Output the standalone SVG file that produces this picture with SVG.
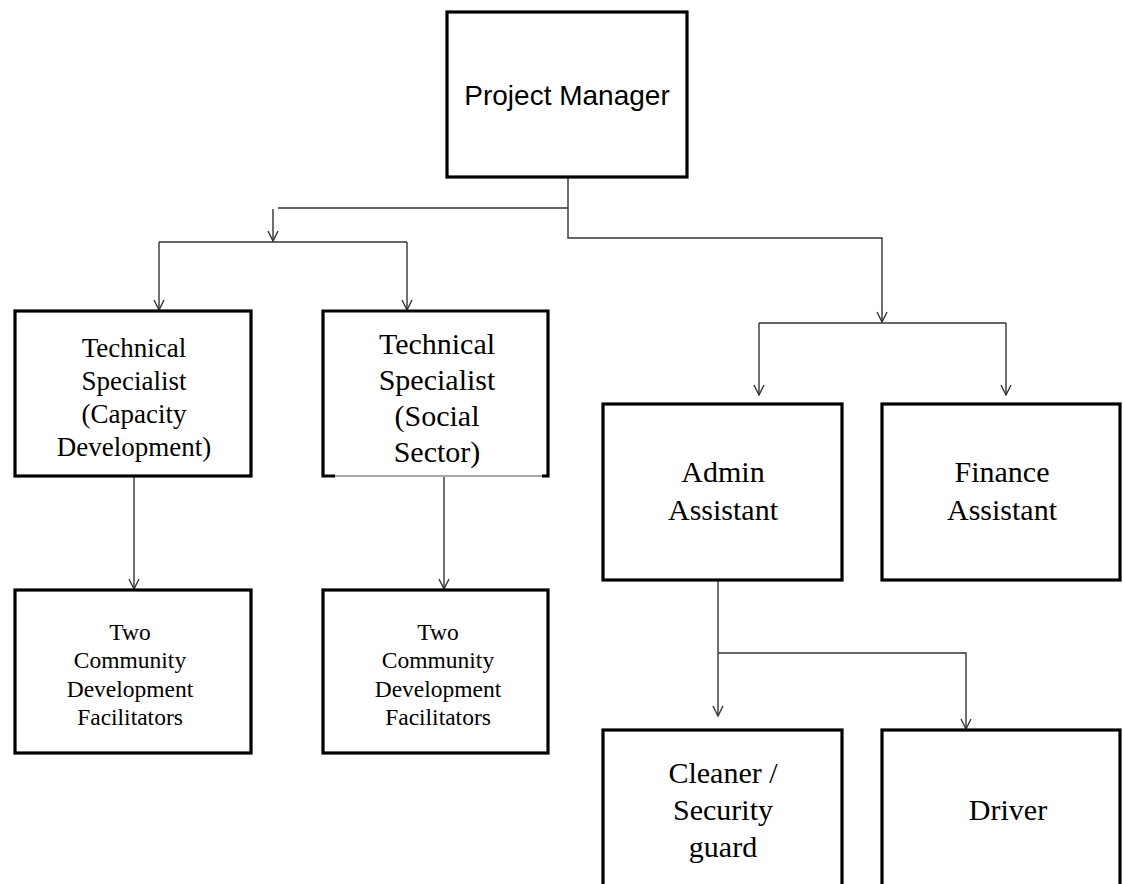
<svg xmlns="http://www.w3.org/2000/svg" width="1123" height="884" viewBox="0 0 1123 884">
<defs>
<style>
.box{fill:#fff;stroke:#000;stroke-width:3.2}
.conn{fill:none;stroke:#333;stroke-width:1.4}
.serif{font-family:"Liberation Serif","Times New Roman",serif;fill:#000;text-anchor:middle}
.sans{font-family:"Liberation Sans",Arial,sans-serif;fill:#000;text-anchor:middle}
.t27{font-size:27px}
.t30{font-size:30px}
.t23{font-size:23.5px}
</style>
<marker id="arr" viewBox="0 0 12 12" refX="11" refY="6" markerWidth="12" markerHeight="12" markerUnits="userSpaceOnUse" orient="auto">
<path d="M1,1 L11,6 L1,11" fill="none" stroke="#333" stroke-width="1.4"/>
</marker>
</defs>
<rect width="1123" height="884" fill="#fff"/>
<g id="connectors">
<path class="conn" d="M568,177 V238 H882 V322" marker-end="url(#arr)"/>
<path class="conn" d="M568,208 H278"/>
<path class="conn" d="M273,209 V241" marker-end="url(#arr)"/>
<path class="conn" d="M159,242 H407"/>
<path class="conn" d="M159,242 V310" marker-end="url(#arr)"/>
<path class="conn" d="M407,242 V310" marker-end="url(#arr)"/>
<path class="conn" d="M759,323 H1006"/>
<path class="conn" d="M759,323 V395" marker-end="url(#arr)"/>
<path class="conn" d="M1006,323 V395" marker-end="url(#arr)"/>
<path class="conn" d="M134,476 V589" marker-end="url(#arr)"/>
<path class="conn" d="M444,477 V589" marker-end="url(#arr)"/>
<path class="conn" d="M718,580 V716" marker-end="url(#arr)"/>
<path class="conn" d="M718,653 H966 V729" marker-end="url(#arr)"/>
</g>
<g id="project-manager">
<rect class="box" x="447" y="12" width="240" height="165"/>
<text class="sans" x="567" y="105" font-size="28">Project Manager</text>
</g>
<g id="ts-capacity">
<rect class="box" x="15" y="311" width="236" height="165"/>
<text class="serif t27" x="134"><tspan x="134" y="357">Technical</tspan><tspan x="134" y="390">Specialist</tspan><tspan x="134" y="423">(Capacity</tspan><tspan x="134" y="456">Development)</tspan></text>
</g>
<g id="ts-social">
<path d="M335,476 H323 V311 H548 V476 H542" fill="#fff" stroke="#000" stroke-width="3.2"/>
<line x1="335" y1="476" x2="542" y2="476" stroke="#888" stroke-width="1.6"/>
<text class="serif t30" x="437"><tspan x="437" y="354">Technical</tspan><tspan x="437" y="390">Specialist</tspan><tspan x="437" y="426">(Social</tspan><tspan x="437" y="462">Sector)</tspan></text>
</g>
<g id="cdf-1">
<rect class="box" x="15" y="590" width="236" height="163"/>
<text class="serif t23" x="130"><tspan x="130" y="640">Two</tspan><tspan x="130" y="668">Community</tspan><tspan x="130" y="697">Development</tspan><tspan x="130" y="725">Facilitators</tspan></text>
</g>
<g id="cdf-2">
<rect class="box" x="323" y="590" width="225" height="163"/>
<text class="serif t23" x="438"><tspan x="438" y="640">Two</tspan><tspan x="438" y="668">Community</tspan><tspan x="438" y="697">Development</tspan><tspan x="438" y="725">Facilitators</tspan></text>
</g>
<g id="admin-assistant">
<rect class="box" x="603" y="404" width="239" height="176"/>
<text class="serif t30" x="723"><tspan x="723" y="482">Admin</tspan><tspan x="723" y="520">Assistant</tspan></text>
</g>
<g id="finance-assistant">
<rect class="box" x="882" y="404" width="238" height="176"/>
<text class="serif t30" x="1002"><tspan x="1002" y="482">Finance</tspan><tspan x="1002" y="520">Assistant</tspan></text>
</g>
<g id="cleaner-security">
<rect class="box" x="603" y="730" width="239" height="170"/>
<text class="serif t30" x="723"><tspan x="723" y="783">Cleaner /</tspan><tspan x="723" y="820">Security</tspan><tspan x="723" y="857">guard</tspan></text>
</g>
<g id="driver">
<rect class="box" x="882" y="730" width="238" height="170"/>
<text class="serif t30" x="1008" y="820">Driver</text>
</g>
</svg>
